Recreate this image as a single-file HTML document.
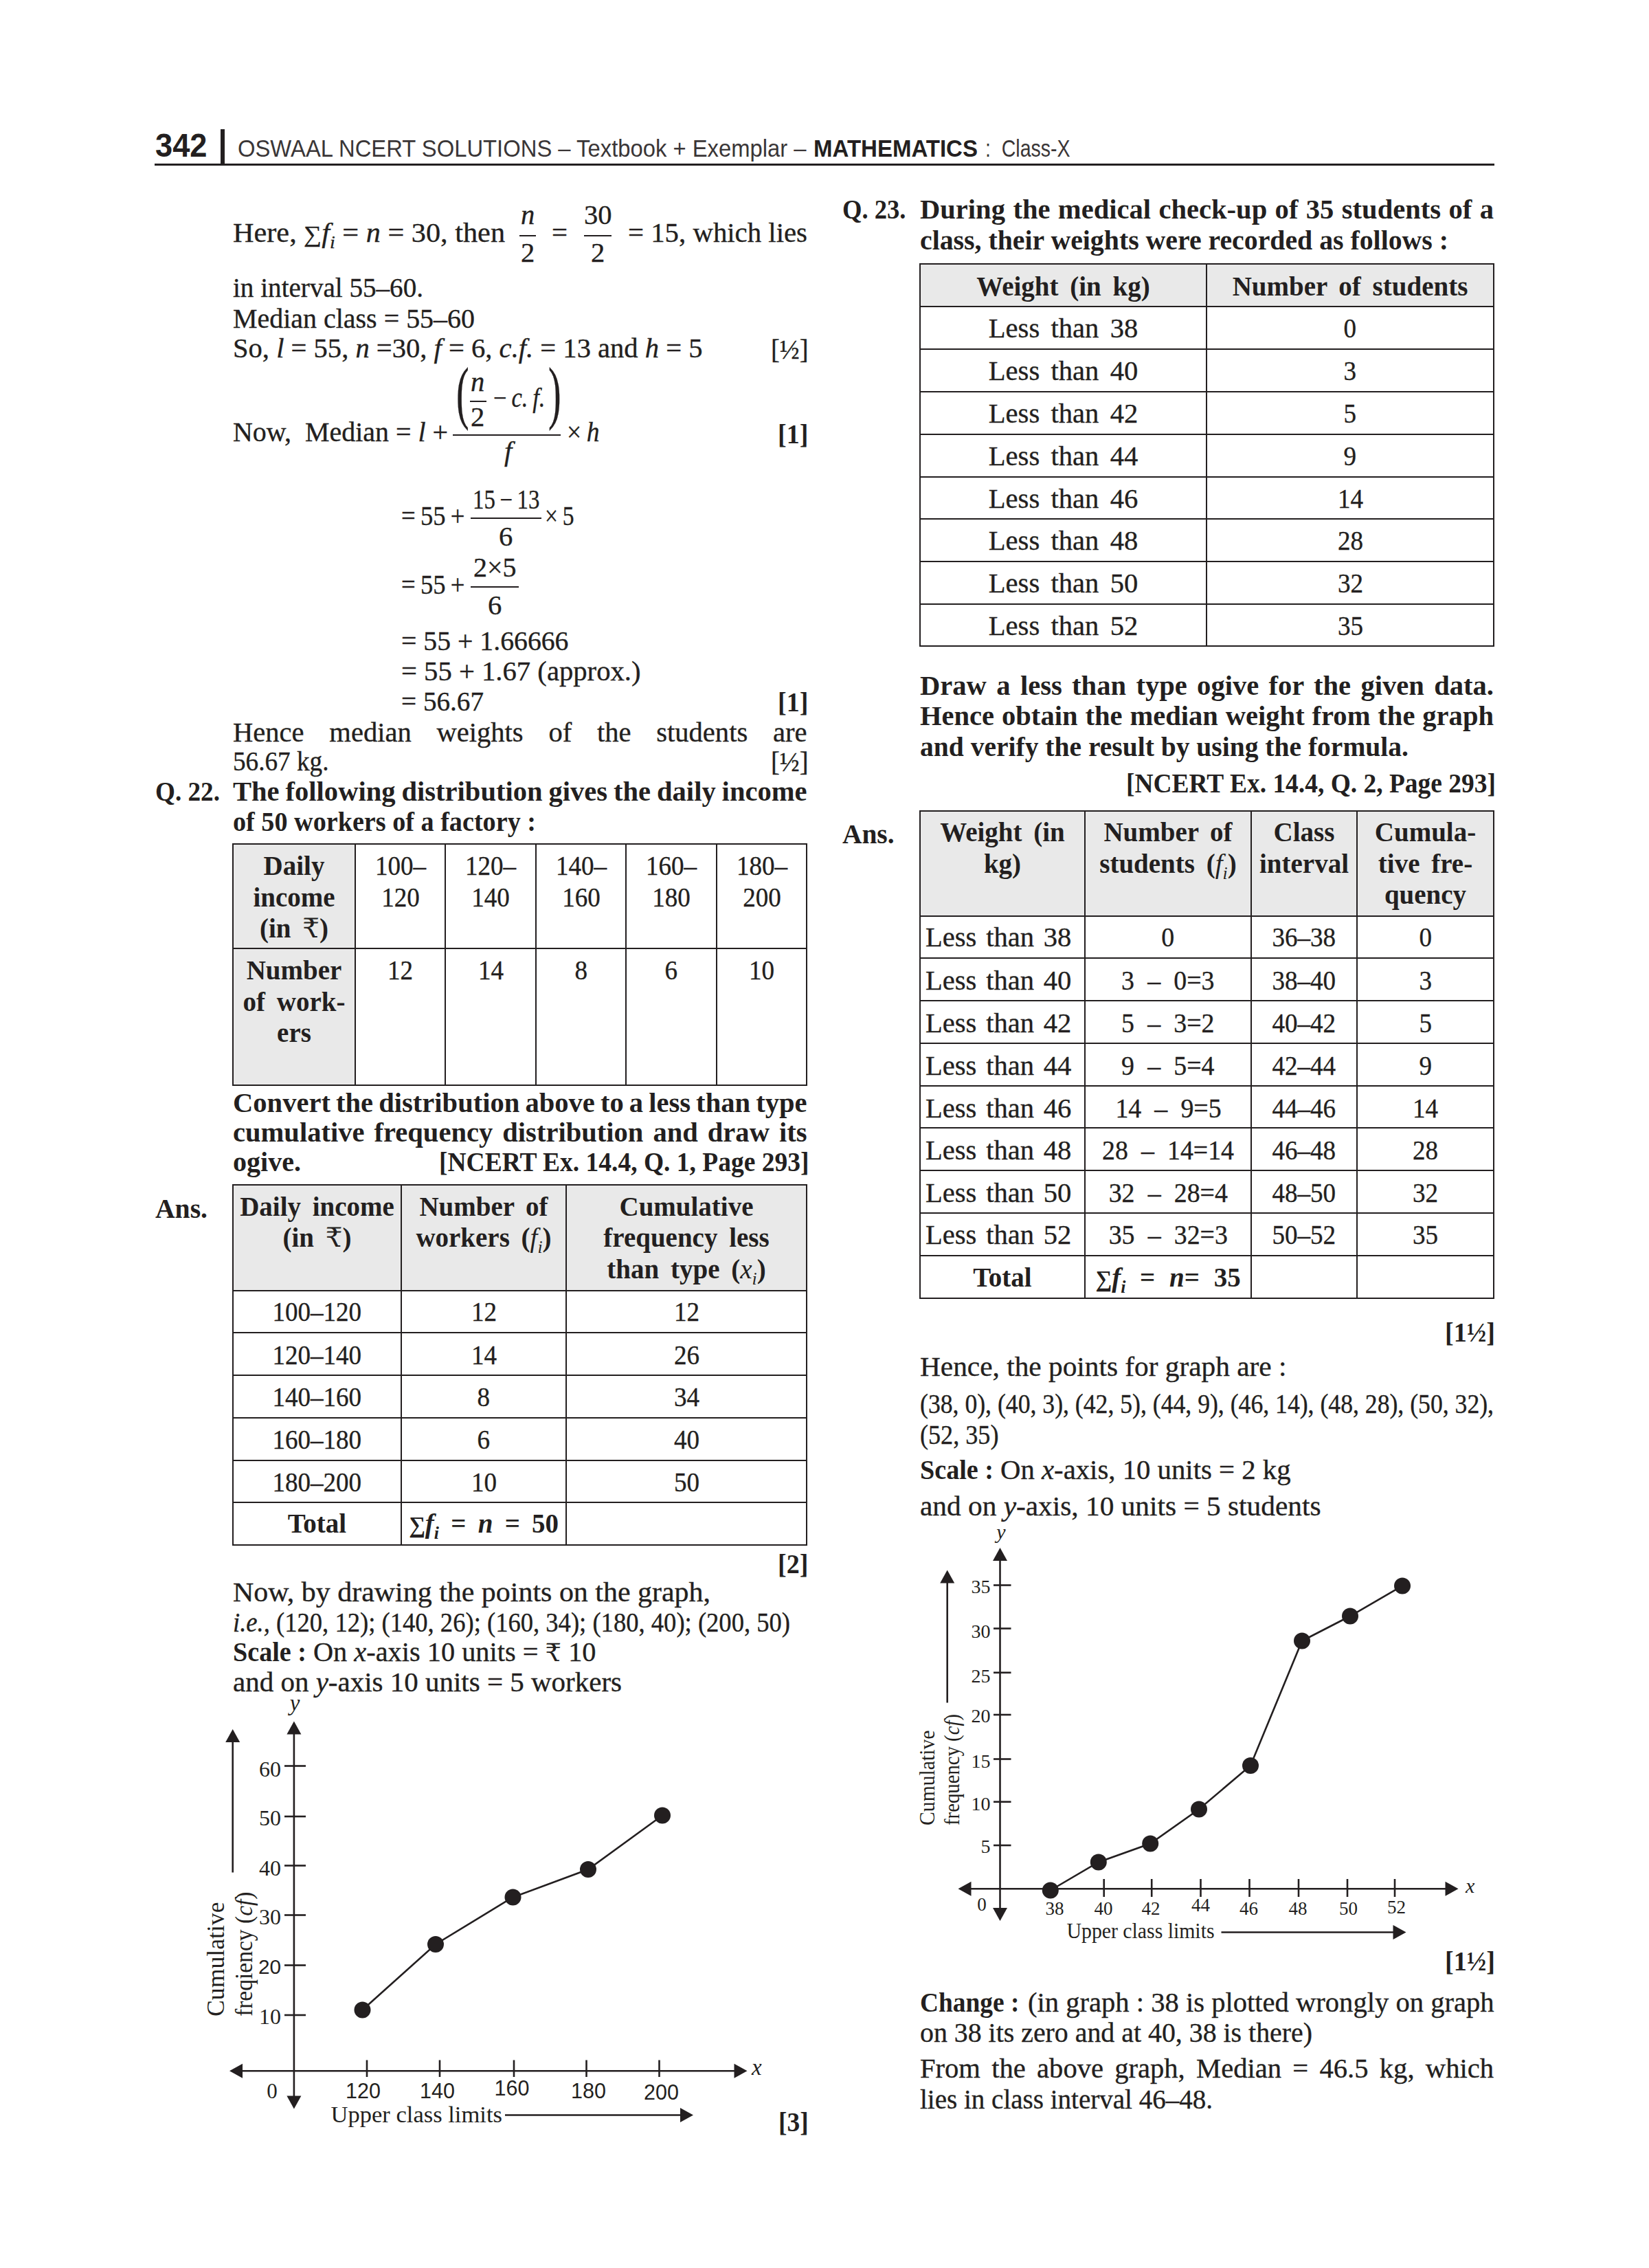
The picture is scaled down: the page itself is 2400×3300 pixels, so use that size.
<!DOCTYPE html>
<html lang="en"><head><meta charset="utf-8"><title>Oswaal NCERT Solutions – Mathematics Class-X – page 342</title>
<style>
html,body{margin:0;padding:0;background:#fff}
body{width:2400px;height:3300px;position:relative;overflow:hidden;color:#231f20;
 font-family:"Liberation Serif","DejaVu Serif",serif;font-size:39px;-webkit-text-stroke:.35px #231f20}
b,td.h,.pg{-webkit-text-stroke:0}
.hd{-webkit-text-stroke:0}
.rs{font-weight:normal}
.ru{-webkit-text-stroke:0;font-size:.92em}
.t{position:absolute;white-space:nowrap;transform-origin:0 0;font-size:39px;line-height:44px;height:44px}
.t sub,.c sub{font-size:.66em;vertical-align:-.36em;line-height:0}
.sg{font-size:.86em}
.pg{font-family:"Liberation Sans",sans-serif;font-weight:bold;font-size:47.5px}
.hd{font-family:"Liberation Sans",sans-serif;color:#3a3637;font-size:35px}
.hd b{color:#231f20}
.vbar,.rule,.bar{position:absolute;background:#231f20}
.bar{height:2px}
table{position:absolute;border-collapse:collapse;table-layout:fixed}
td{border:2px solid #231f20;padding:0;text-align:center;vertical-align:top;font-size:39px;line-height:45.7px;white-space:nowrap;overflow:visible}
td.h{background:#e9e9e9;font-weight:bold}
td.l{text-align:left}
.c{display:inline-block}
svg.fig{position:absolute;overflow:visible}
svg.fig text{font-family:"Liberation Serif",serif;fill:#231f20}
svg.fig text.sans{font-family:"Liberation Sans",sans-serif}
</style></head>
<body>
<main>
<header>
<div class="vbar" style="left:321px;top:188px;width:6px;height:51px"></div>
<div class="t pg" style="left:226.0px;top:189.5px;transform:scaleX(0.9525)">342</div>
<div class="t hd" style="left:346.0px;top:193.7px;transform:scaleX(0.9367)">OSWAAL NCERT SOLUTIONS – Textbook + Exemplar –</div>
<div class="t hd" style="left:1183.5px;top:193.7px;transform:scaleX(0.9431)"><b>MATHEMATICS</b></div>
<div class="t hd" style="left:1434.0px;top:193.7px;transform:scaleX(0.8141)">:&nbsp; Class-X</div>
<div class="rule" style="left:225px;top:238px;width:1950px;height:3px"></div>
</header>
<section class="col-left">
<div class="t" style="left:757.9px;top:290.8px;transform:scaleX(1.0400)"><i>n</i></div>
<div class="t" style="left:849.7px;top:290.8px;transform:scaleX(1.0400)">30</div>
<div class="bar" style="left:756px;top:341.5px;width:24px"></div>
<div class="bar" style="left:850px;top:341.5px;width:40px"></div>
<div class="t" style="left:339.0px;top:317.3px;transform:scaleX(1.0840)">Here, <span class="sg">∑</span><i>f<sub>i</sub></i> = <i>n</i> = 30, then</div>
<div class="t" style="left:803.0px;top:317.3px;transform:scaleX(1.0455)">=</div>
<div class="t" style="left:913.5px;top:317.3px;transform:scaleX(1.0462)">= 15, which lies</div>
<div class="t" style="left:757.9px;top:345.8px;transform:scaleX(1.0400)">2</div>
<div class="t" style="left:859.9px;top:345.8px;transform:scaleX(1.0400)">2</div>
<div class="t" style="left:339.0px;top:397.3px;transform:scaleX(1.0029)">in interval 55–60.</div>
<div class="t" style="left:339.0px;top:442.3px;transform:scaleX(1.0242)">Median class = 55–60</div>
<div class="t" style="left:339.0px;top:484.8px;transform:scaleX(1.0402)">So, <i>l</i> = 55, <i>n</i> =30, <i>f</i> = 6, <i>c.f.</i> = 13 and <i>h</i> = 5</div>
<div class="t" style="left:1121.5px;top:486.8px;transform:scaleX(0.9867)">[½]</div>
<div class="t" style="left:685.4px;top:533.8px;transform:scaleX(1.0400)"><i>n</i></div>
<div class="t" style="left:717.5px;top:557.3px;transform:scaleX(0.8855)">−&#8201;<i>c.&#8201;f.</i></div>
<div class="bar" style="left:684px;top:583px;width:24px"></div>
<div class="t par" style="left:663.9px;top:510.4px;font-size:102px;line-height:122.4px;height:122.4px;transform:scaleX(0.5500)">(</div>
<div class="t par" style="left:797.9px;top:510.4px;font-size:102px;line-height:122.4px;height:122.4px;transform:scaleX(0.5500)">)</div>
<div class="t" style="left:685.4px;top:584.8px;transform:scaleX(1.0400)">2</div>
<div class="bar" style="left:659px;top:631.5px;width:157px"></div>
<div class="t" style="left:339.0px;top:607.3px;transform:scaleX(1.0236)">Now,&nbsp; Median = <i>l</i> +</div>
<div class="t" style="left:825.0px;top:607.3px;transform:scaleX(0.9632)">×&#8201;<i>h</i></div>
<div class="t" style="left:1132.0px;top:609.8px;transform:scaleX(0.9740)"><b>[1]</b></div>
<div class="t" style="left:734.4px;top:634.8px;transform:scaleX(1.0400)"><i>f</i></div>
<div class="t" style="left:687.5px;top:704.8px;transform:scaleX(0.8432)">15&#8201;−&#8201;13</div>
<div class="bar" style="left:685px;top:753px;width:102.5px"></div>
<div class="t" style="left:583.5px;top:728.8px;transform:scaleX(0.9380)">=&#8201;55&#8201;+</div>
<div class="t" style="left:792.5px;top:728.8px;transform:scaleX(0.8619)">×&#8201;5</div>
<div class="t" style="left:725.9px;top:758.8px;transform:scaleX(1.0400)">6</div>
<div class="t" style="left:689.0px;top:803.8px;transform:scaleX(1.0246)">2×5</div>
<div class="bar" style="left:685px;top:853px;width:70px"></div>
<div class="t" style="left:583.5px;top:828.8px;transform:scaleX(0.9380)">=&#8201;55&#8201;+</div>
<div class="t" style="left:709.9px;top:858.8px;transform:scaleX(1.0400)">6</div>
<div class="t" style="left:584.0px;top:911.3px;transform:scaleX(1.0188)">= 55 + 1.66666</div>
<div class="t" style="left:584.0px;top:954.8px;transform:scaleX(1.0426)">= 55 + 1.67 (approx.)</div>
<div class="t" style="left:584.0px;top:998.8px;transform:scaleX(1.0042)">= 56.67</div>
<div class="t" style="left:1132.0px;top:999.8px;transform:scaleX(0.9740)"><b>[1]</b></div>
<div class="t" style="left:339.0px;top:1043.8px;transform:scaleX(1.0400);word-spacing:25.59px">Hence median weights of the students are</div>
<div class="t" style="left:339.0px;top:1086.3px;transform:scaleX(0.9538)">56.67 kg.</div>
<div class="t" style="left:1121.5px;top:1086.8px;transform:scaleX(0.9867)">[½]</div>
<div class="t" style="left:226.0px;top:1129.8px;transform:scaleX(0.9534)"><b>Q. 22.</b></div>
<div class="t" style="left:339.0px;top:1129.8px;transform:scaleX(1.0400);word-spacing:-1.17px"><b>The following distribution gives the daily income</b></div>
<div class="t" style="left:339.0px;top:1173.8px;transform:scaleX(0.9788)"><b>of 50 workers of a factory :</b></div>
<table style="left:338px;top:1227px;width:835px">
<colgroup><col style="width:178px"><col style="width:131px"><col style="width:132px"><col style="width:131px"><col style="width:132px"><col style="width:131px"></colgroup>
<tr style="height:152px">
<td class="h" style="padding-top:8.0px"><span class="c" style="transform:scaleX(1.000);word-spacing:7px">Daily<br>income<br>(in <span class="rs">₹</span>)</span></td>
<td style="padding-top:8.0px"><span class="c" style="transform:scaleX(0.950)">100–<br>120</span></td>
<td style="padding-top:8.0px"><span class="c" style="transform:scaleX(0.950)">120–<br>140</span></td>
<td style="padding-top:8.0px"><span class="c" style="transform:scaleX(0.950)">140–<br>160</span></td>
<td style="padding-top:8.0px"><span class="c" style="transform:scaleX(0.950)">160–<br>180</span></td>
<td style="padding-top:8.0px"><span class="c" style="transform:scaleX(0.950)">180–<br>200</span></td>
</tr>
<tr style="height:199px">
<td class="h" style="padding-top:8.0px"><span class="c" style="transform:scaleX(1.000);word-spacing:7px">Number<br>of work-<br>ers</span></td>
<td style="padding-top:8.0px"><span class="c" style="transform:scaleX(0.950)">12</span></td>
<td style="padding-top:8.0px"><span class="c" style="transform:scaleX(0.950)">14</span></td>
<td style="padding-top:8.0px"><span class="c" style="transform:scaleX(0.950)">8</span></td>
<td style="padding-top:8.0px"><span class="c" style="transform:scaleX(0.950)">6</span></td>
<td style="padding-top:8.0px"><span class="c" style="transform:scaleX(0.950)">10</span></td>
</tr>
</table>
<div class="t" style="left:339.0px;top:1583.3px;transform:scaleX(1.0400);word-spacing:-1.96px"><b>Convert the distribution above to a less than type</b></div>
<div class="t" style="left:339.0px;top:1626.3px;transform:scaleX(1.0400);word-spacing:3.72px"><b>cumulative frequency distribution and draw its</b></div>
<div class="t" style="left:339.0px;top:1669.3px;transform:scaleX(1.0269)"><b>ogive.</b></div>
<div class="t" style="left:638.5px;top:1669.3px;transform:scaleX(0.9613)"><b>[NCERT Ex. 14.4, Q. 1, Page 293]</b></div>
<table style="left:338px;top:1723px;width:835px">
<colgroup><col style="width:245px"><col style="width:240px"><col style="width:350px"></colgroup>
<tr style="height:154px">
<td class="h" style="padding-top:7.7px"><span class="c" style="transform:scaleX(1.000);word-spacing:7px">Daily income<br>(in <span class="rs">₹</span>)</span></td>
<td class="h" style="padding-top:7.7px"><span class="c" style="transform:scaleX(1.000);word-spacing:7px">Number of<br>workers (<i class="rs">f<sub>i</sub></i>)</span></td>
<td class="h" style="padding-top:7.7px"><span class="c" style="transform:scaleX(1.000);word-spacing:7px">Cumulative<br>frequency less<br>than type (<i class="rs">x<sub>i</sub></i>)</span></td>
</tr>
<tr style="height:61px">
<td style="padding-top:7.2px"><span class="c" style="transform:scaleX(0.950)">100–120</span></td>
<td style="padding-top:7.2px"><span class="c" style="transform:scaleX(0.950)">12</span></td>
<td style="padding-top:7.2px"><span class="c" style="transform:scaleX(0.950)">12</span></td>
</tr>
<tr style="height:62px">
<td style="padding-top:8.6px"><span class="c" style="transform:scaleX(0.950)">120–140</span></td>
<td style="padding-top:8.6px"><span class="c" style="transform:scaleX(0.950)">14</span></td>
<td style="padding-top:8.6px"><span class="c" style="transform:scaleX(0.950)">26</span></td>
</tr>
<tr style="height:62px">
<td style="padding-top:8.3px"><span class="c" style="transform:scaleX(0.950)">140–160</span></td>
<td style="padding-top:8.3px"><span class="c" style="transform:scaleX(0.950)">8</span></td>
<td style="padding-top:8.3px"><span class="c" style="transform:scaleX(0.950)">34</span></td>
</tr>
<tr style="height:62px">
<td style="padding-top:8.1px"><span class="c" style="transform:scaleX(0.950)">160–180</span></td>
<td style="padding-top:8.1px"><span class="c" style="transform:scaleX(0.950)">6</span></td>
<td style="padding-top:8.1px"><span class="c" style="transform:scaleX(0.950)">40</span></td>
</tr>
<tr style="height:61px">
<td style="padding-top:7.9px"><span class="c" style="transform:scaleX(0.950)">180–200</span></td>
<td style="padding-top:7.9px"><span class="c" style="transform:scaleX(0.950)">10</span></td>
<td style="padding-top:7.9px"><span class="c" style="transform:scaleX(0.950)">50</span></td>
</tr>
<tr style="height:62px">
<td style="padding-top:7.3px"><span class="c" style="transform:scaleX(1.000)"><b>Total</b></span></td>
<td style="padding-top:7.3px"><span class="c" style="transform:scaleX(1.000);word-spacing:7.5px"><b><span class="sg">∑</span><i>f<sub>i</sub></i> = <i>n</i> = 50</b></span></td>
<td style="padding-top:7.3px"></td>
</tr>
</table>
<div class="t" style="left:226.0px;top:1737.3px;transform:scaleX(1.0161)"><b>Ans.</b></div>
<div class="t" style="left:1132.0px;top:2253.8px;transform:scaleX(0.9740)"><b>[2]</b></div>
<div class="t" style="left:339.0px;top:2294.8px;transform:scaleX(1.0754)">Now, by drawing the points on the graph,</div>
<div class="t" style="left:339.0px;top:2338.8px;transform:scaleX(0.9383)"><i>i.e.,</i> (120, 12); (140, 26); (160, 34); (180, 40); (200, 50)</div>
<div class="t" style="left:339.0px;top:2382.3px;transform:scaleX(0.9781)"><b>Scale :</b></div>
<div class="t" style="left:456.0px;top:2382.3px;transform:scaleX(1.0340)">On <i>x</i>-axis 10 units = <span class="ru">₹</span> 10</div>
<div class="t" style="left:339.0px;top:2425.8px;transform:scaleX(1.0508)">and on <i>y</i>-axis 10 units = 5 workers</div>
<svg class="fig" style="left:200px;top:2466px" width="1000" height="660" viewBox="200 2466 1000 660">
<g stroke="#231f20" stroke-width="2.6" fill="none">
<line x1="427.9" y1="2514.5" x2="427.9" y2="3058.5"/>
<line x1="344" y1="3013.2" x2="1077.5" y2="3013.2"/>
<line x1="414" y1="2569.5" x2="445" y2="2569.5"/>
<line x1="414" y1="2643" x2="445" y2="2643"/>
<line x1="414" y1="2714.5" x2="445" y2="2714.5"/>
<line x1="414" y1="2786.5" x2="445" y2="2786.5"/>
<line x1="414" y1="2859.5" x2="445" y2="2859.5"/>
<line x1="414" y1="2932" x2="445" y2="2932"/>
<line x1="534" y1="2997.5" x2="534" y2="3022"/>
<line x1="640" y1="2997.5" x2="640" y2="3022"/>
<line x1="748" y1="2997.5" x2="748" y2="3022"/>
<line x1="853.5" y1="2997.5" x2="853.5" y2="3022"/>
<line x1="959.5" y1="2997.5" x2="959.5" y2="3022"/>
<polyline points="527.5,2924.5 634,2829 746.5,2760.5 856,2720 964,2641.5"/>
<line x1="338.7" y1="2526" x2="338.7" y2="2724.5"/>
<line x1="735" y1="3077.5" x2="999" y2="3077.5"/>
</g>
<g fill="#231f20">
<polygon points="427.9,2504.5 438.4,2523.5 417.4,2523.5"/>
<polygon points="427.9,3068.5 417.4,3049.5 438.4,3049.5"/>
<polygon points="334.0,3013.2 353.0,3002.7 353.0,3023.7"/>
<polygon points="1087.5,3013.2 1068.5,3023.7 1068.5,3002.7"/>
<polygon points="338.7,2516.0 349.2,2535.0 328.2,2535.0"/>
<polygon points="1009.0,3077.5 990.0,3088.0 990.0,3067.0"/>
<circle cx="527.5" cy="2924.5" r="12"/>
<circle cx="634" cy="2829" r="12"/>
<circle cx="746.5" cy="2760.5" r="12"/>
<circle cx="856" cy="2720" r="12"/>
<circle cx="964" cy="2641.5" r="12"/>
<text x="409" y="2584.5" font-size="32" text-anchor="end">60</text>
<text x="409" y="2656" font-size="32" text-anchor="end">50</text>
<text x="409" y="2729" font-size="32" text-anchor="end">40</text>
<text x="409" y="2799.5" font-size="32" text-anchor="end">30</text>
<text x="409" y="2872" font-size="29.76" text-anchor="end" class="sans">20</text>
<text x="409" y="2945" font-size="32" text-anchor="end">10</text>
<text x="528.5" y="3052.5" font-size="30.5" text-anchor="middle" class="sans">120</text>
<text x="636.5" y="3052.5" font-size="30.5" text-anchor="middle" class="sans">140</text>
<text x="745" y="3048.5" font-size="30.5" text-anchor="middle" class="sans">160</text>
<text x="856.5" y="3052.5" font-size="30.5" text-anchor="middle" class="sans">180</text>
<text x="962.5" y="3055" font-size="30.5" text-anchor="middle" class="sans">200</text>
<text x="396" y="3052.5" font-size="31" text-anchor="middle">0</text>
<text x="429" y="2489" font-size="33" text-anchor="middle" font-style="italic">y</text>
<text x="1094" y="3019" font-size="33" font-style="italic">x</text>
<text transform="translate(326 2934) rotate(-90)" font-size="35" textLength="166.5" lengthAdjust="spacingAndGlyphs">Cumulative</text>
<text transform="translate(367 2934) rotate(-90)" font-size="35" textLength="181.5" lengthAdjust="spacingAndGlyphs">freqiency (<tspan font-style="italic">cf</tspan>)</text>
<text x="481.5" y="3087.5" font-size="33.5" textLength="249.5" lengthAdjust="spacingAndGlyphs">Upper class limits</text>
</g></svg>
<div class="t" style="left:1132.7px;top:3065.8px;transform:scaleX(0.9586)"><b>[3]</b></div>
</section>
<section class="col-right">
<div class="t" style="left:1226.0px;top:283.3px;transform:scaleX(0.9382)"><b>Q. 23.</b></div>
<div class="t" style="left:1339.0px;top:283.3px;transform:scaleX(1.0400);word-spacing:1.23px"><b>During the medical check-up of 35 students of a</b></div>
<div class="t" style="left:1339.0px;top:327.8px;transform:scaleX(1.0201)"><b>class, their weights were recorded as follows :</b></div>
<table style="left:1338px;top:383px;width:835px">
<colgroup><col style="width:417px"><col style="width:418px"></colgroup>
<tr style="height:62px">
<td class="h" style="padding-top:8.5px"><span class="c" style="transform:scaleX(1.000);word-spacing:7px">Weight (in kg)</span></td>
<td class="h" style="padding-top:8.5px"><span class="c" style="transform:scaleX(1.000);word-spacing:7px">Number of students</span></td>
</tr>
<tr style="height:62px">
<td style="padding-top:8.0px"><span class="c" style="transform:scaleX(1.040);word-spacing:6px">Less than 38</span></td>
<td style="padding-top:8.0px"><span class="c" style="transform:scaleX(0.950)">0</span></td>
</tr>
<tr style="height:62px">
<td style="padding-top:8.0px"><span class="c" style="transform:scaleX(1.040);word-spacing:6px">Less than 40</span></td>
<td style="padding-top:8.0px"><span class="c" style="transform:scaleX(0.950)">3</span></td>
</tr>
<tr style="height:62px">
<td style="padding-top:8.0px"><span class="c" style="transform:scaleX(1.040);word-spacing:6px">Less than 42</span></td>
<td style="padding-top:8.0px"><span class="c" style="transform:scaleX(0.950)">5</span></td>
</tr>
<tr style="height:62px">
<td style="padding-top:8.0px"><span class="c" style="transform:scaleX(1.040);word-spacing:6px">Less than 44</span></td>
<td style="padding-top:8.0px"><span class="c" style="transform:scaleX(0.950)">9</span></td>
</tr>
<tr style="height:61px">
<td style="padding-top:8.0px"><span class="c" style="transform:scaleX(1.040);word-spacing:6px">Less than 46</span></td>
<td style="padding-top:8.0px"><span class="c" style="transform:scaleX(0.950)">14</span></td>
</tr>
<tr style="height:62px">
<td style="padding-top:8.0px"><span class="c" style="transform:scaleX(1.040);word-spacing:6px">Less than 48</span></td>
<td style="padding-top:8.0px"><span class="c" style="transform:scaleX(0.950)">28</span></td>
</tr>
<tr style="height:62px">
<td style="padding-top:8.0px"><span class="c" style="transform:scaleX(1.040);word-spacing:6px">Less than 50</span></td>
<td style="padding-top:8.0px"><span class="c" style="transform:scaleX(0.950)">32</span></td>
</tr>
<tr style="height:61px">
<td style="padding-top:8.0px"><span class="c" style="transform:scaleX(1.040);word-spacing:6px">Less than 52</span></td>
<td style="padding-top:8.0px"><span class="c" style="transform:scaleX(0.950)">35</span></td>
</tr>
</table>
<div class="t" style="left:1339.0px;top:975.5px;transform:scaleX(1.0400);word-spacing:4.07px"><b>Draw a less than type ogive for the given data.</b></div>
<div class="t" style="left:1339.0px;top:1020.3px;transform:scaleX(1.0400);word-spacing:0.75px"><b>Hence obtain the median weight from the graph</b></div>
<div class="t" style="left:1339.0px;top:1064.8px;transform:scaleX(1.0138)"><b>and verify the result by using the formula.</b></div>
<div class="t" style="left:1638.5px;top:1117.5px;transform:scaleX(0.9604)"><b>[NCERT Ex. 14.4, Q. 2, Page 293]</b></div>
<table style="left:1338px;top:1179px;width:835px">
<colgroup><col style="width:240px"><col style="width:242px"><col style="width:154px"><col style="width:199px"></colgroup>
<tr style="height:153px">
<td class="h" style="padding-top:6.9px"><span class="c" style="transform:scaleX(1.000);word-spacing:7px">Weight (in<br>kg)</span></td>
<td class="h" style="padding-top:6.9px"><span class="c" style="transform:scaleX(1.000);word-spacing:7px">Number of<br>students (<i class="rs">f<sub>i</sub></i>)</span></td>
<td class="h" style="padding-top:6.9px"><span class="c" style="transform:scaleX(1.000);word-spacing:7px">Class<br>interval</span></td>
<td class="h" style="padding-top:6.9px"><span class="c" style="transform:scaleX(1.000);word-spacing:7px">Cumula-<br>tive fre-<br>quency</span></td>
</tr>
<tr style="height:61px">
<td class="l" style="padding-top:7.0px;padding-left:7px"><span class="c" style="transform:scaleX(1.040);transform-origin:0 50%;word-spacing:3.5px">Less than 38</span></td>
<td style="padding-top:7.0px"><span class="c" style="transform:scaleX(0.970);word-spacing:10px">0</span></td>
<td style="padding-top:7.0px"><span class="c" style="transform:scaleX(0.950)">36–38</span></td>
<td style="padding-top:7.0px"><span class="c" style="transform:scaleX(0.950)">0</span></td>
</tr>
<tr style="height:62px">
<td class="l" style="padding-top:8.7px;padding-left:7px"><span class="c" style="transform:scaleX(1.040);transform-origin:0 50%;word-spacing:3.5px">Less than 40</span></td>
<td style="padding-top:8.7px"><span class="c" style="transform:scaleX(0.970);word-spacing:10px">3 – 0=3</span></td>
<td style="padding-top:8.7px"><span class="c" style="transform:scaleX(0.950)">38–40</span></td>
<td style="padding-top:8.7px"><span class="c" style="transform:scaleX(0.950)">3</span></td>
</tr>
<tr style="height:62px">
<td class="l" style="padding-top:8.5px;padding-left:7px"><span class="c" style="transform:scaleX(1.040);transform-origin:0 50%;word-spacing:3.5px">Less than 42</span></td>
<td style="padding-top:8.5px"><span class="c" style="transform:scaleX(0.970);word-spacing:10px">5 – 3=2</span></td>
<td style="padding-top:8.5px"><span class="c" style="transform:scaleX(0.950)">40–42</span></td>
<td style="padding-top:8.5px"><span class="c" style="transform:scaleX(0.950)">5</span></td>
</tr>
<tr style="height:62px">
<td class="l" style="padding-top:8.5px;padding-left:7px"><span class="c" style="transform:scaleX(1.040);transform-origin:0 50%;word-spacing:3.5px">Less than 44</span></td>
<td style="padding-top:8.5px"><span class="c" style="transform:scaleX(0.970);word-spacing:10px">9 – 5=4</span></td>
<td style="padding-top:8.5px"><span class="c" style="transform:scaleX(0.950)">42–44</span></td>
<td style="padding-top:8.5px"><span class="c" style="transform:scaleX(0.950)">9</span></td>
</tr>
<tr style="height:61px">
<td class="l" style="padding-top:8.5px;padding-left:7px"><span class="c" style="transform:scaleX(1.040);transform-origin:0 50%;word-spacing:3.5px">Less than 46</span></td>
<td style="padding-top:8.5px"><span class="c" style="transform:scaleX(0.970);word-spacing:10px">14 – 9=5</span></td>
<td style="padding-top:8.5px"><span class="c" style="transform:scaleX(0.950)">44–46</span></td>
<td style="padding-top:8.5px"><span class="c" style="transform:scaleX(0.950)">14</span></td>
</tr>
<tr style="height:62px">
<td class="l" style="padding-top:8.5px;padding-left:7px"><span class="c" style="transform:scaleX(1.040);transform-origin:0 50%;word-spacing:3.5px">Less than 48</span></td>
<td style="padding-top:8.5px"><span class="c" style="transform:scaleX(0.970);word-spacing:10px">28 – 14=14</span></td>
<td style="padding-top:8.5px"><span class="c" style="transform:scaleX(0.950)">46–48</span></td>
<td style="padding-top:8.5px"><span class="c" style="transform:scaleX(0.950)">28</span></td>
</tr>
<tr style="height:62px">
<td class="l" style="padding-top:8.5px;padding-left:7px"><span class="c" style="transform:scaleX(1.040);transform-origin:0 50%;word-spacing:3.5px">Less than 50</span></td>
<td style="padding-top:8.5px"><span class="c" style="transform:scaleX(0.970);word-spacing:10px">32 – 28=4</span></td>
<td style="padding-top:8.5px"><span class="c" style="transform:scaleX(0.950)">48–50</span></td>
<td style="padding-top:8.5px"><span class="c" style="transform:scaleX(0.950)">32</span></td>
</tr>
<tr style="height:62px">
<td class="l" style="padding-top:8.2px;padding-left:7px"><span class="c" style="transform:scaleX(1.040);transform-origin:0 50%;word-spacing:3.5px">Less than 52</span></td>
<td style="padding-top:8.2px"><span class="c" style="transform:scaleX(0.970);word-spacing:10px">35 – 32=3</span></td>
<td style="padding-top:8.2px"><span class="c" style="transform:scaleX(0.950)">50–52</span></td>
<td style="padding-top:8.2px"><span class="c" style="transform:scaleX(0.950)">35</span></td>
</tr>
<tr style="height:62px">
<td style="padding-top:8.4px"><span class="c" style="transform:scaleX(1.000)"><b>Total</b></span></td>
<td style="padding-top:8.4px"><span class="c" style="transform:scaleX(1.000);word-spacing:11px"><b><span class="sg">∑</span><i>f<sub>i</sub></i> = <i>n</i>= 35</b></span></td>
<td style="padding-top:8.4px"></td>
<td style="padding-top:8.4px"></td>
</tr>
</table>
<div class="t" style="left:1226.0px;top:1192.3px;transform:scaleX(1.0094)"><b>Ans.</b></div>
<div class="t" style="left:2103.0px;top:1917.3px;transform:scaleX(0.9768)"><b>[1½]</b></div>
<div class="t" style="left:1339.0px;top:1967.3px;transform:scaleX(1.0595)">Hence, the points for graph are :</div>
<div class="t" style="left:1339.0px;top:2021.3px;transform:scaleX(0.9145)">(38, 0), (40, 3), (42, 5), (44, 9), (46, 14), (48, 28), (50, 32),</div>
<div class="t" style="left:1339.0px;top:2066.3px;transform:scaleX(0.9272)">(52, 35)</div>
<div class="t" style="left:1339.0px;top:2117.3px;transform:scaleX(0.9781)"><b>Scale :</b></div>
<div class="t" style="left:1456.0px;top:2117.3px;transform:scaleX(1.0448)">On <i>x</i>-axis, 10 units = 2 kg</div>
<div class="t" style="left:1339.0px;top:2170.1px;transform:scaleX(1.0597)">and on <i>y</i>-axis, 10 units = 5 students</div>
<svg class="fig" style="left:1300px;top:2216px" width="900" height="640" viewBox="1300 2216 900 640">
<g stroke="#231f20" stroke-width="2.6" fill="none">
<line x1="1455.5" y1="2262" x2="1455.5" y2="2785"/>
<line x1="1404.5" y1="2748.3" x2="2112.5" y2="2748.3"/>
<line x1="1446" y1="2306.5" x2="1471.5" y2="2306.5"/>
<line x1="1446" y1="2369.5" x2="1471.5" y2="2369.5"/>
<line x1="1446" y1="2433.7" x2="1471.5" y2="2433.7"/>
<line x1="1446" y1="2495" x2="1471.5" y2="2495"/>
<line x1="1446" y1="2559.5" x2="1471.5" y2="2559.5"/>
<line x1="1446" y1="2621.7" x2="1471.5" y2="2621.7"/>
<line x1="1446" y1="2685" x2="1471.5" y2="2685"/>
<line x1="1606.7" y1="2734" x2="1606.7" y2="2760"/>
<line x1="1676.2" y1="2734" x2="1676.2" y2="2760"/>
<line x1="1747.5" y1="2734" x2="1747.5" y2="2760"/>
<line x1="1818.5" y1="2734" x2="1818.5" y2="2760"/>
<line x1="1890" y1="2734" x2="1890" y2="2760"/>
<line x1="1961" y1="2734" x2="1961" y2="2760"/>
<line x1="2030" y1="2734" x2="2030" y2="2760"/>
<polyline points="1528.8,2750.5 1598.8,2709.5 1674.2,2682.5 1745,2632.5 1820,2569 1895,2387.5 1965,2351.5 2041,2307.5"/>
<line x1="1378.7" y1="2294.5" x2="1378.7" y2="2477.5"/>
<line x1="1777.5" y1="2811.5" x2="2036.5" y2="2811.5"/>
</g>
<g fill="#231f20">
<polygon points="1455.5,2252.0 1466.0,2271.0 1445.0,2271.0"/>
<polygon points="1455.5,2795.0 1445.0,2776.0 1466.0,2776.0"/>
<polygon points="1394.5,2748.3 1413.5,2737.8 1413.5,2758.8"/>
<polygon points="2122.5,2748.3 2103.5,2758.8 2103.5,2737.8"/>
<polygon points="1378.7,2284.5 1389.2,2303.5 1368.2,2303.5"/>
<polygon points="2046.5,2811.5 2027.5,2822.0 2027.5,2801.0"/>
<circle cx="1528.8" cy="2750.5" r="12"/>
<circle cx="1598.8" cy="2709.5" r="12"/>
<circle cx="1674.2" cy="2682.5" r="12"/>
<circle cx="1745" cy="2632.5" r="12"/>
<circle cx="1820" cy="2569" r="12"/>
<circle cx="1895" cy="2387.5" r="12"/>
<circle cx="1965" cy="2351.5" r="12"/>
<circle cx="2041" cy="2307.5" r="12"/>
<text x="1441.5" y="2317.5" font-size="28" text-anchor="end">35</text>
<text x="1441.5" y="2382.5" font-size="28" text-anchor="end">30</text>
<text x="1441.5" y="2447.7" font-size="28" text-anchor="end">25</text>
<text x="1441.5" y="2506" font-size="28" text-anchor="end">20</text>
<text x="1441.5" y="2572" font-size="28" text-anchor="end">15</text>
<text x="1441.5" y="2634.2" font-size="28" text-anchor="end">10</text>
<text x="1441.5" y="2696" font-size="28" text-anchor="end">5</text>
<text x="1535" y="2786" font-size="27" text-anchor="middle">38</text>
<text x="1606" y="2786" font-size="27" text-anchor="middle">40</text>
<text x="1675" y="2786" font-size="27" text-anchor="middle">42</text>
<text x="1747.5" y="2781" font-size="27" text-anchor="middle">44</text>
<text x="1817.5" y="2786" font-size="27" text-anchor="middle">46</text>
<text x="1889" y="2786" font-size="27" text-anchor="middle">48</text>
<text x="1962.5" y="2786" font-size="27" text-anchor="middle">50</text>
<text x="2032.5" y="2784" font-size="27" text-anchor="middle">52</text>
<text x="1429" y="2780" font-size="27" text-anchor="middle">0</text>
<text x="1457" y="2239" font-size="30" text-anchor="middle" font-style="italic">y</text>
<text x="2133" y="2754" font-size="30" font-style="italic">x</text>
<text transform="translate(1360 2656) rotate(-90)" font-size="31" textLength="138.5" lengthAdjust="spacingAndGlyphs">Cumulative</text>
<text transform="translate(1396 2656) rotate(-90)" font-size="31" textLength="162" lengthAdjust="spacingAndGlyphs">frequency (<tspan font-style="italic">cf</tspan>)</text>
<text x="1552.5" y="2820" font-size="30.5" textLength="215" lengthAdjust="spacingAndGlyphs">Upper class limits</text>
</g></svg>
<div class="t" style="left:2103.0px;top:2831.8px;transform:scaleX(0.9768)"><b>[1½]</b></div>
<div class="t" style="left:1339.0px;top:2892.3px;transform:scaleX(0.9589)"><b>Change :</b></div>
<div class="t" style="left:1495.5px;top:2892.3px;transform:scaleX(1.0400);word-spacing:0.04px">(in graph : 38 is plotted wrongly on graph</div>
<div class="t" style="left:1339.0px;top:2935.8px;transform:scaleX(1.0217)">on 38 its zero and at 40, 38 is there)</div>
<div class="t" style="left:1339.0px;top:2988.4px;transform:scaleX(1.0400);word-spacing:5.95px">From the above graph, Median = 46.5 kg, which</div>
<div class="t" style="left:1339.0px;top:3032.8px;transform:scaleX(1.0008)">lies in class interval 46–48.</div>
</section>
</main>
</body></html>
